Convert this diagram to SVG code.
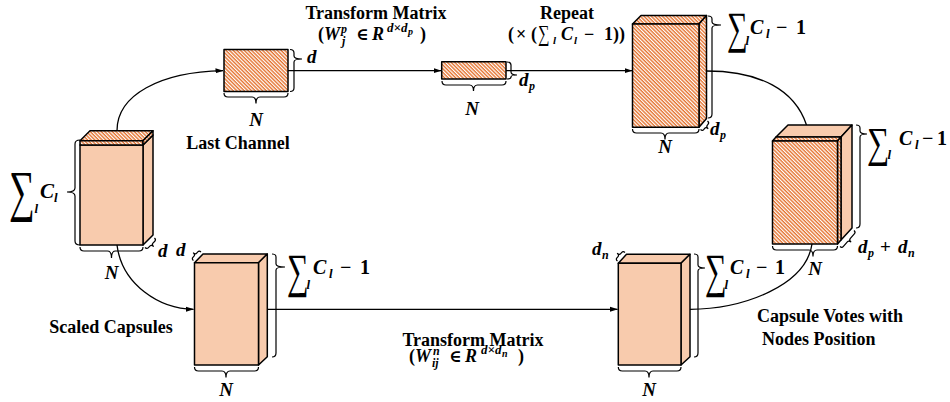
<svg xmlns="http://www.w3.org/2000/svg" width="950" height="402" viewBox="0 0 950 402">
<defs>
<pattern id="hatch" width="3" height="2.6" patternUnits="userSpaceOnUse" patternTransform="rotate(45)">
<rect width="3" height="2.6" fill="#FFFFFF"/>
<rect width="3" height="1.4" fill="#E5732F"/>
</pattern>
<marker id="arr" markerWidth="8" markerHeight="6" refX="7.5" refY="3" orient="auto" markerUnits="userSpaceOnUse">
<path d="M0,0.5 L8,3 L0,5.5 z" fill="#000"/>
</marker>
</defs>
<style>
.pe{fill:#F8CBAD;stroke:#000;stroke-width:1.5;stroke-linejoin:round}
.ht{fill:url(#hatch);stroke:#000;stroke-width:1.5;stroke-linejoin:round}
.br{fill:none;stroke:#000;stroke-width:1.2}
.cn{fill:none;stroke:#000;stroke-width:1.3}
.t{font-family:"Liberation Serif","Times New Roman",serif;font-weight:bold;font-size:18px;fill:#000}
.m{font-family:"Liberation Serif","Times New Roman",serif;font-weight:bold;font-style:italic;fill:#000}
.s{font-family:"Liberation Serif","DejaVu Serif",serif;font-weight:normal;fill:#000}
.o{font-family:"Liberation Serif","DejaVu Serif",serif;font-weight:bold;fill:#000}
</style>

<g id="connectors">
<path class="cn" d="M117,130.7 C117,95 160,72 223,70.7" marker-end="url(#arr)"/>
<path class="cn" d="M117,245 C122,285 160,309 193.5,309.3" marker-end="url(#arr)"/>
<path class="cn" d="M288,70.7 L441,70.7" marker-end="url(#arr)"/>
<path class="cn" d="M506,70.7 L632,70.7" marker-end="url(#arr)"/>
<path class="cn" d="M706.5,71 C760,71 795,90 806.5,125"/>
<path class="cn" d="M267.3,309.3 L617.5,309.3" marker-end="url(#arr)"/>
<path class="cn" d="M690,309.3 C745,309 806,285 812,244"/>
</g>

<g id="scaled-capsules">
<polygon class="pe" points="143,145 153,135 153,235 143,245"/>
<rect class="pe" x="80" y="145" width="63" height="100"/>
<polygon class="ht" points="80,140.7 90,130.7 153,130.7 143,140.7"/>
<rect class="ht" x="80" y="140.7" width="63" height="4.3"/>
<polygon class="ht" points="143,140.7 153,130.7 153,135 143,145"/>
<path class="br" d="M80,140 Q75,140 75,144 L75,188 Q75,192 67,192 Q75,192 75,196 L75,241 Q75,245 80,245"/>
<path class="br" d="M80,247 Q80,251 84,251 L107.5,251 Q111.5,251 111.5,258 Q111.5,251 115.5,251 L139,251 Q143,251 143,247"/>
<path class="br" transform="translate(145,247.5) rotate(-45)" d="M0,0 Q0,2.5 2,2.5 L4.7,2.5 Q6.7,2.5 6.7,5.5 Q6.7,2.5 8.7,2.5 L11.4,2.5 Q13.4,2.5 13.4,0"/>
<text class="s" font-size="38" transform="translate(9,210) scale(0.95,1.48)">∑</text>
<text class="m" x="34.5" y="213" font-size="13">l</text>
<text class="m" x="40" y="198" font-size="21">C</text>
<text class="m" x="54" y="202" font-size="13">l</text>
<text class="m" x="111.5" y="279" font-size="19" text-anchor="middle">N</text>
<text class="m" x="158" y="256.5" font-size="19">d</text>
<text class="t" x="111" y="333" text-anchor="middle">Scaled Capsules</text>
</g>

<g id="last-channel">
<rect class="ht" x="224" y="49.5" width="64" height="42"/>
<path class="br" d="M290,49.5 Q294,49.5 294,53 L294,56 Q294,59 302,59 Q294,59 294,62 L294,88 Q294,91.5 290,91.5"/>
<path class="br" d="M224,93 Q224,97 228,97 L252,97 Q256,97 256,103.5 Q256,97 260,97 L284,97 Q288,97 288,93"/>
<text class="m" x="307" y="63" font-size="19">d</text>
<text class="m" x="256" y="126" font-size="19" text-anchor="middle">N</text>
<text class="t" x="238" y="148.5" text-anchor="middle">Last Channel</text>
</g>

<g id="transform-p">
<rect class="ht" x="441.7" y="61.7" width="64.3" height="17.3"/>
<path class="br" d="M507,62 Q511,62 511,65 L511,72 Q511,75 517,75 Q511,75 511,77 Q511,79 507,79"/>
<path class="br" d="M442,81 Q442,85 446,85 L469.5,85 Q473.5,85 473.5,91 Q473.5,85 477.5,85 L502,85 Q506,85 506,81"/>
<text class="m" x="519" y="86" font-size="19">d</text>
<text class="m" x="529" y="90" font-size="12">p</text>
<text class="m" x="472" y="115" font-size="19" text-anchor="middle">N</text>
<text class="t" x="376" y="18.5" text-anchor="middle">Transform Matrix</text>
<text class="o" x="318" y="40" font-size="18">(</text>
<text class="m" x="324" y="40" font-size="18">W</text>
<text class="m" x="341" y="33" font-size="12">p</text>
<text class="m" x="342" y="45" font-size="12">j</text>
<text class="o" x="356" y="40" font-size="17">∈</text>
<text class="m" x="372" y="40" font-size="18">R</text>
<text class="m" x="387" y="32" font-size="13">d×d</text>
<text class="m" x="408" y="35" font-size="10">p</text>
<text class="o" x="420" y="40" font-size="18">)</text>
</g>

<g id="repeat">
<polygon class="ht" points="632.5,24 641,15.5 706.5,15.5 699,24"/>
<polygon class="ht" points="699,24 706.5,15.5 706.5,118.5 699,127.3"/>
<rect class="ht" x="632.5" y="24" width="66.5" height="103.3"/>
<path class="br" d="M708,16 Q712,16 712,19 L712,22 Q712,25 721,25 Q712,25 712,28 L712,114 Q712,118 708,118"/>
<path class="br" d="M632.5,129 Q632.5,133 636.5,133 L661,133 Q665,133 665,139.5 Q665,133 669,133 L695,133 Q699,133 699,129"/>
<path class="br" transform="translate(700.5,129.5) rotate(-50.5)" d="M0,0 Q0,2.5 2,2.5 L3.5,2.5 Q5.5,2.5 5.5,5.5 Q5.5,2.5 7.5,2.5 L9,2.5 Q11,2.5 11,0"/>
<text class="s" font-size="33" transform="translate(727,43) scale(0.88,1.36)">∑</text>
<text class="m" x="745.5" y="45" font-size="13">l</text>
<text class="m" x="750" y="34" font-size="20">C</text>
<text class="m" x="766" y="38" font-size="13">l</text>
<text class="o" x="776" y="34" font-size="20">−</text>
<text class="o" x="796" y="34" font-size="20">1</text>
<text class="m" x="665" y="153" font-size="19" text-anchor="middle">N</text>
<text class="m" x="710" y="135" font-size="19">d</text>
<text class="m" x="720" y="139" font-size="12">p</text>
<text class="t" x="567" y="18.5" text-anchor="middle">Repeat</text>
<text class="o" x="508" y="40" font-size="18">(</text>
<text class="o" x="516" y="40" font-size="18">×</text>
<text class="o" x="531" y="40" font-size="18">(</text>
<text class="s" font-size="18" transform="translate(538,41) scale(0.9,1.3)">∑</text>
<text class="m" x="553" y="44" font-size="11">l</text>
<text class="m" x="561" y="40" font-size="18">C</text>
<text class="m" x="574" y="44" font-size="11">l</text>
<text class="o" x="584" y="40" font-size="18">−</text>
<text class="o" x="604" y="40" font-size="18">1</text>
<text class="o" x="613" y="40" font-size="18">))</text>
</g>

<g id="capsule-votes">
<polygon class="pe" points="776,137 788,125 852,125 841,137"/>
<polygon class="pe" points="841,137 852,125 852,228 841,240"/>
<polygon class="ht" points="772.5,141 776,137 841,137 837.5,141"/>
<polygon class="ht" points="837.5,141 841,137 841,240 837.5,244"/>
<rect class="ht" x="772.5" y="141" width="65" height="103"/>
<path class="br" d="M856,125 Q860,125 860,128 L860,131 Q860,134 867,134 Q860,134 860,137 L860,224 Q860,228 856,228"/>
<path class="br" d="M772.5,246 Q772.5,250 776.5,250 L809,250 Q813,250 813,256.5 Q813,250 817,250 L833.5,250 Q837.5,250 837.5,246"/>
<path class="br" transform="translate(840,246.5) rotate(-48.8)" d="M0,0 Q0,2.5 2,2.5 L8.6,2.5 Q10.6,2.5 10.6,5.5 Q10.6,2.5 12.6,2.5 L19.2,2.5 Q21.2,2.5 21.2,0"/>
<text class="s" font-size="33" transform="translate(867,157) scale(0.95,1.3)">∑</text>
<text class="m" x="887.5" y="159" font-size="13">l</text>
<text class="m" x="899" y="145" font-size="20">C</text>
<text class="m" x="915" y="149" font-size="13">l</text>
<text class="o" x="922" y="145" font-size="20">−</text>
<text class="o" x="937" y="145" font-size="20">1</text>
<text class="m" x="815" y="275" font-size="19" text-anchor="middle">N</text>
<text class="m" x="858" y="253" font-size="19">d</text>
<text class="m" x="868" y="257" font-size="12">p</text>
<text class="o" x="880" y="253" font-size="19">+</text>
<text class="m" x="898" y="253" font-size="19">d</text>
<text class="m" x="908" y="257" font-size="12">n</text>
<text class="t" x="757" y="322">Capsule Votes with</text>
<text class="t" x="762" y="345">Nodes Position</text>
</g>

<g id="scaled-copy">
<polygon class="pe" points="194.5,262.7 203,254 267.3,254 258.5,262.7"/>
<polygon class="pe" points="258.5,262.7 267.3,254 267.3,356.7 258.5,365"/>
<rect class="pe" x="194.5" y="262.7" width="64" height="102.3"/>
<path class="br" d="M272,254 Q276,254 276,257 L276,264 Q276,267 285,267 Q276,267 276,270 L276,353 Q276,357 272,357"/>
<path class="br" d="M194.5,367 Q194.5,371 198.5,371 L222,371 Q226,371 226,377.5 Q226,371 230,371 L254.5,371 Q258.5,371 258.5,367"/>
<path class="br" transform="translate(201,252) rotate(131.4)" d="M0,0 Q0,2.5 2,2.5 L3.7,2.5 Q5.7,2.5 5.7,5.5 Q5.7,2.5 7.7,2.5 L9.4,2.5 Q11.4,2.5 11.4,0"/>
<text class="s" font-size="33" transform="translate(287,287) scale(0.92,1.45)">∑</text>
<text class="m" x="306.5" y="289" font-size="13">l</text>
<text class="m" x="313" y="274" font-size="20">C</text>
<text class="m" x="329" y="278" font-size="13">l</text>
<text class="o" x="340" y="274" font-size="20">−</text>
<text class="o" x="360" y="274" font-size="20">1</text>
<text class="m" x="226" y="396" font-size="19" text-anchor="middle">N</text>
<text class="m" x="176" y="256" font-size="19">d</text>
</g>

<g id="node-position">
<polygon class="pe" points="618.3,263.3 626.5,254.3 690,254.3 681,263.3"/>
<polygon class="pe" points="681,263.3 690,254.3 690,356.7 681,365"/>
<rect class="pe" x="618.3" y="263.3" width="62.7" height="101.7"/>
<path class="br" d="M694,254 Q698,254 698,257 L698,265 Q698,268 705,268 Q698,268 698,271 L698,353 Q698,357 694,357"/>
<path class="br" d="M618.3,367 Q618.3,371 622.3,371 L645,371 Q649,371 649,377.5 Q649,371 653,371 L677,371 Q681,371 681,367"/>
<path class="br" transform="translate(625,252.5) rotate(131.4)" d="M0,0 Q0,2.5 2,2.5 L3.7,2.5 Q5.7,2.5 5.7,5.5 Q5.7,2.5 7.7,2.5 L9.4,2.5 Q11.4,2.5 11.4,0"/>
<text class="s" font-size="33" transform="translate(705,287) scale(0.92,1.45)">∑</text>
<text class="m" x="724.5" y="289" font-size="13">l</text>
<text class="m" x="730" y="274" font-size="20">C</text>
<text class="m" x="746" y="278" font-size="13">l</text>
<text class="o" x="756" y="274" font-size="20">−</text>
<text class="o" x="775" y="274" font-size="20">1</text>
<text class="m" x="649" y="396" font-size="19" text-anchor="middle">N</text>
<text class="m" x="592" y="255" font-size="19">d</text>
<text class="m" x="602" y="259" font-size="12">n</text>
<text class="t" x="473" y="346" text-anchor="middle">Transform Matrix</text>
<text class="o" x="409" y="362" font-size="18">(</text>
<text class="m" x="415" y="362" font-size="18">W</text>
<text class="m" x="433" y="355" font-size="12">n</text>
<text class="m" x="432" y="367" font-size="12">ij</text>
<text class="o" x="449" y="362" font-size="17">∈</text>
<text class="m" x="465" y="362" font-size="18">R</text>
<text class="m" x="481" y="354" font-size="13">d×d</text>
<text class="m" x="502" y="357" font-size="10">n</text>
<text class="o" x="518" y="362" font-size="18">)</text>
</g>
</svg>
